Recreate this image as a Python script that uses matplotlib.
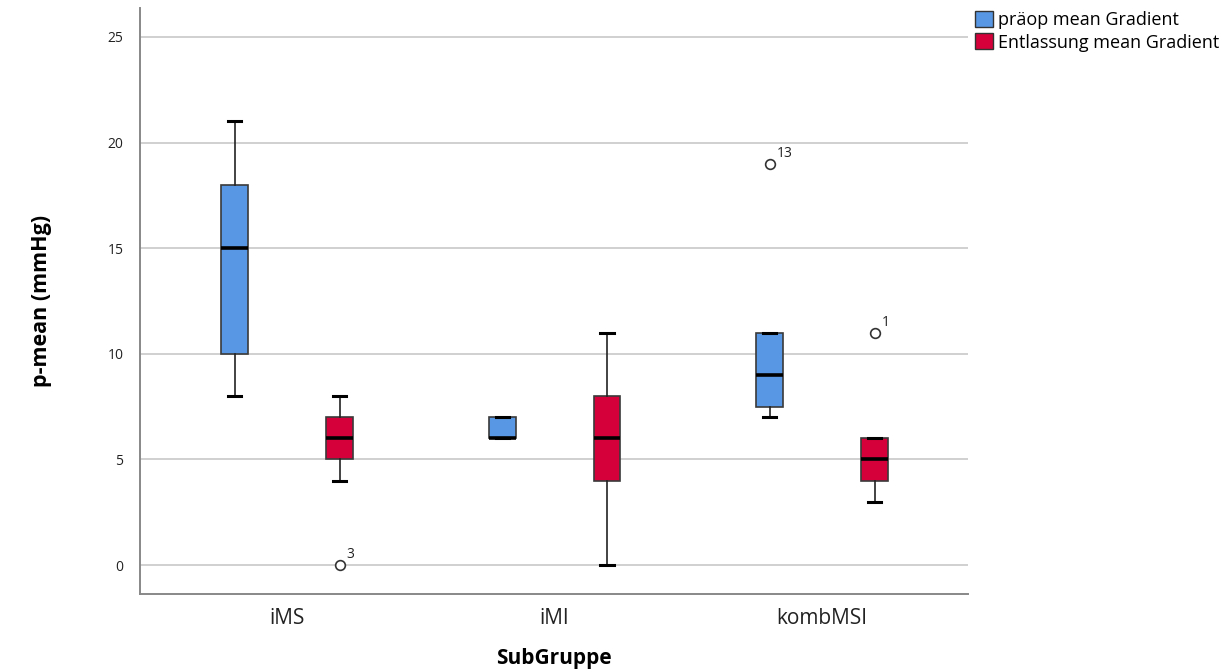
# boxplot of mean gradient before surgery vs. at discharge, per subgroup

import matplotlib as mpl
mpl.use('Agg')
import matplotlib.pyplot as plt
from matplotlib.patches import Patch
import numpy as np

groups = ['iMS', 'iMI', 'kombMSI']
series = ['präop mean Gradient', 'Entlassung mean Gradient']
colors = ['#5897e3', '#d5003a']

# five-number summaries per group: whislo, q1, median, q3, whishi
praeop_stats = [[8, 10, 15, 18, 21],
                [6, 6, 6, 7, 7],
                [7, 7.5, 9, 11, 11]]
entl_stats = [[4, 5, 6, 7, 8],
              [0, 4, 6, 8, 11],
              [3, 4, 5, 6, 6]]

# outliers and their case numbers
praeop_fliers = [[], [], [19]]
praeop_flier_ids = [[], [], ['13']]
entl_fliers = [[0], [], [11]]
entl_flier_ids = [['3'], [], ['1']]

plt.rcParams['font.family'] = ['Open Sans', 'DejaVu Sans']

fig = plt.figure(figsize=(12.24, 6.70), dpi=100)
ax = fig.add_axes([0.1144, 0.1134, 0.6766, 0.8746])

x = np.arange(len(groups))
offset = 0.196
box_w = 0.1


def make_stats(stats, fliers):
  out = []
  for s, f in zip(stats, fliers):
    out.append(dict(whislo=s[0], q1=s[1], med=s[2], q3=s[3], whishi=s[4], fliers=f))
  return out


for k, (stats, fliers, ids) in enumerate([(praeop_stats, praeop_fliers, praeop_flier_ids),
                                         (entl_stats, entl_fliers, entl_flier_ids)]):
  pos = x + (offset if k == 1 else -offset)
  ax.bxp(make_stats(stats, fliers), positions=pos, widths=box_w, capwidths=box_w * 0.5,
         patch_artist=True, manage_ticks=False,
         boxprops=dict(facecolor=colors[k], edgecolor='#3a3a3a', linewidth=1.2),
         medianprops=dict(color='black', linewidth=2.6),
         whiskerprops=dict(color='#222222', linewidth=1.2),
         capprops=dict(color='black', linewidth=2.2),
         flierprops=dict(marker='o', markersize=7, markerfacecolor='white',
                         markeredgecolor='#333333', markeredgewidth=1.2))
  for p, f, lab in zip(pos, fliers, ids):
    for v, t in zip(f, lab):
      ax.annotate(t, (p, v), xytext=(5, 2), textcoords='offset points',
                  fontsize=10, color='#222222', va='bottom', ha='left')

ax.set_xlim(-0.55, 2.546)
ax.set_ylim(-1.37, 26.37)
ax.set_yticks([0, 5, 10, 15, 20, 25])
ax.set_xticks(x)
ax.set_xticklabels(groups, fontsize=15)
ax.tick_params(axis='y', length=0, labelsize=10, pad=12, colors='#222222')
ax.tick_params(axis='x', length=0, pad=10, colors='#222222')
ax.yaxis.grid(True, color='#c8c8c8', linewidth=1.2)
ax.set_axisbelow(True)
for side in ['top', 'right']:
  ax.spines[side].set_visible(False)
for side in ['left', 'bottom']:
  ax.spines[side].set_color('#888888')
  ax.spines[side].set_linewidth(1.4)

ax.set_xlabel('SubGruppe', fontsize=15, fontweight='bold', labelpad=14)
ax.set_ylabel('p-mean (mmHg)', fontsize=15.5, fontweight='bold', labelpad=40)

handles = [Patch(facecolor=c, edgecolor='#333333', linewidth=1.0) for c in colors]
fig.legend(handles, series, loc='upper left', bbox_to_anchor=(0.789, 0.997),
           frameon=False, fontsize=13, handlelength=1.0, handleheight=1.0,
           handletextpad=0.3, labelspacing=0.22, borderaxespad=0.1)

plt.savefig('out.png', dpi=100)
plt.close()
